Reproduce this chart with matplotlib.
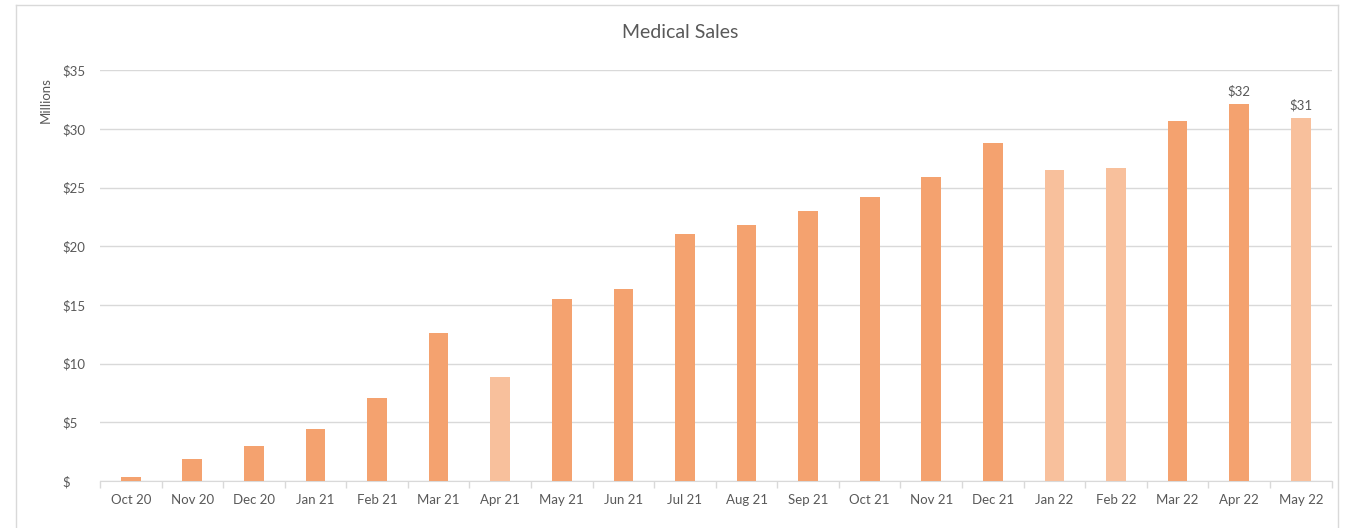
import numpy as np
import matplotlib.pyplot as plt
from matplotlib.lines import Line2D

plt.rcParams['font.family'] = ['Lato', 'DejaVu Sans']

months = ['Oct 20', 'Nov 20', 'Dec 20', 'Jan 21', 'Feb 21', 'Mar 21', 'Apr 21',
          'May 21', 'Jun 21', 'Jul 21', 'Aug 21', 'Sep 21', 'Oct 21', 'Nov 21',
          'Dec 21', 'Jan 22', 'Feb 22', 'Mar 22', 'Apr 22', 'May 22']
sales = [0.34, 1.87, 2.98, 4.43, 7.07, 12.6, 8.86, 15.5, 16.35, 21.04, 21.8,
         23.0, 24.2, 25.9, 28.8, 26.5, 26.66, 30.66, 32.1, 30.9]
light = ['Apr 21', 'Jan 22', 'Feb 22', 'May 22']
labelled = {'Apr 22': '$32', 'May 22': '$31'}
yticks = [0, 5, 10, 15, 20, 25, 30, 35]

dark_c = '#F4A26F'
light_c = '#F8C09C'
text_c = '#595959'
grid_c = '#D9D9D9'

fig = plt.figure(figsize=(13.45, 5.28), dpi=100)
ax = fig.add_axes([0.0743, 0.089, 0.9157, 0.778])

x = np.arange(len(months))
colors = [light_c if m in light else dark_c for m in months]
bars = ax.bar(x, sales, width=0.32, color=colors, zorder=3)

for b, m in zip(bars, months):
    if m in labelled:
        ax.text(b.get_x() + b.get_width() / 2, b.get_height() + 0.6, labelled[m],
                ha='center', va='bottom', fontsize=9.5, color=text_c)

ax.set_xlim(-0.5, len(months) - 0.5)
ax.set_ylim(0, 35)
ax.set_yticks(yticks)
ax.set_yticklabels(['$' if v == 0 else '$%d' % v for v in yticks])
ax.set_xticks(x)
ax.set_xticklabels(months)
ax.set_xticks(np.arange(-0.5, len(months), 1), minor=True)
ax.tick_params(axis='x', which='major', length=0, pad=9, labelsize=9.5, labelcolor=text_c)
ax.tick_params(axis='x', which='minor', length=5, color=grid_c, width=1)
ax.tick_params(axis='y', length=0, pad=27, labelsize=9.5, labelcolor=text_c)
for lab in ax.get_yticklabels():
    lab.set_horizontalalignment('left')

ax.grid(axis='y', color=grid_c, linewidth=1, zorder=0)
for s in ['top', 'right', 'left']:
    ax.spines[s].set_visible(False)
ax.spines['bottom'].set_color(grid_c)

fig.text(0.034, 0.81, 'Millions', rotation=90, ha='center', va='center',
         fontsize=9.5, color=text_c)
fig.text(0.506, 0.939, 'Medical Sales', ha='center', va='center',
         fontsize=14, color=text_c)

# chart frame
for xs, ys in [([0.012, 0.012], [0, 0.99]), ([0.012, 0.995], [0.99, 0.99]),
               ([0.995, 0.995], [0, 0.99])]:
    fig.add_artist(Line2D(xs, ys, color=grid_c, linewidth=1, transform=fig.transFigure))

fig.savefig('out.png', dpi=100)
